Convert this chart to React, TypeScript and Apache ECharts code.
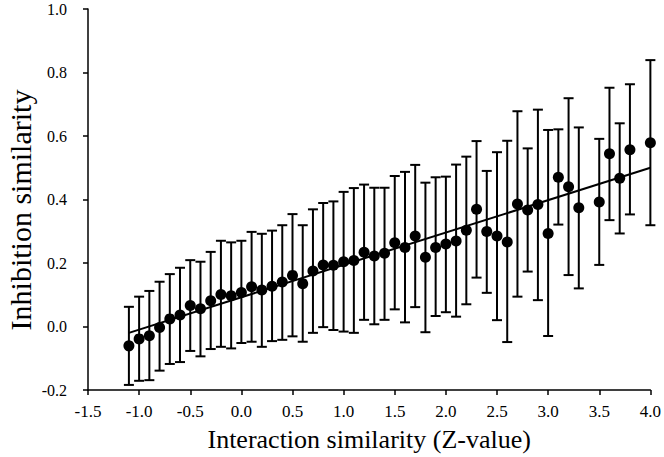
import React, { useEffect, useRef } from "react";
import * as echarts from "echarts";

const xValues = [
  -1.1, -1.0, -0.9, -0.8, -0.7, -0.6, -0.5, -0.4, -0.3, -0.2, -0.1, 0.0, 0.1, 0.2, 0.3, 0.4, 0.5, 0.6,
  0.7, 0.8, 0.9, 1.0, 1.1, 1.2, 1.3, 1.4, 1.5, 1.6, 1.7, 1.8, 1.9, 2.0, 2.1, 2.2, 2.3, 2.4, 2.5, 2.6,
  2.7, 2.8, 2.9, 3.0, 3.1, 3.2, 3.3, 3.5, 3.6, 3.7, 3.8, 4.0,
];
const means = [
  -0.061, -0.039, -0.029, -0.003, 0.024, 0.036, 0.066, 0.056, 0.081, 0.101, 0.097, 0.107, 0.125, 0.115,
  0.127, 0.14, 0.161, 0.135, 0.175, 0.194, 0.193, 0.204, 0.208, 0.234, 0.222, 0.231, 0.264, 0.249, 0.285,
  0.218, 0.249, 0.26, 0.269, 0.303, 0.369, 0.299, 0.285, 0.266, 0.386, 0.367, 0.384, 0.293, 0.47, 0.44,
  0.374, 0.392, 0.544, 0.467, 0.557, 0.579,
];
const upper = [
  0.062, 0.094, 0.112, 0.141, 0.165, 0.185, 0.209, 0.204, 0.235, 0.27, 0.265, 0.27, 0.298, 0.292, 0.302,
  0.319, 0.354, 0.319, 0.369, 0.389, 0.394, 0.424, 0.436, 0.447, 0.437, 0.437, 0.474, 0.487, 0.509, 0.453,
  0.47, 0.472, 0.51, 0.535, 0.584, 0.49, 0.549, 0.585, 0.678, 0.561, 0.683, 0.619, 0.621, 0.719, 0.627,
  0.591, 0.752, 0.64, 0.763, 0.839,
];
const lower = [
  -0.184, -0.171, -0.169, -0.139, -0.118, -0.112, -0.077, -0.094, -0.071, -0.064, -0.069, -0.052, -0.048,
  -0.064, -0.046, -0.042, -0.031, -0.048, -0.02, -0.002, -0.011, -0.016, -0.02, 0.021, 0.007, 0.021, 0.054,
  0.013, 0.061, -0.018, 0.033, 0.045, 0.031, 0.07, 0.154, 0.106, 0.02, -0.049, 0.094, 0.173, 0.083, -0.03,
  0.321, 0.162, 0.12, 0.194, 0.335, 0.293, 0.353, 0.319,
];
const fitX = [-1.1, 4.0];
const fitY = [-0.02, 0.5];

const xTitle = "Interaction similarity (Z-value)";
const yTitle = "Inhibition similarity";

const FONT = "'Liberation Serif', 'Times New Roman', serif";

export default function App() {
  const ref = useRef<HTMLDivElement>(null);
  useEffect(() => {
    document.body.style.margin = "0";
    if (!ref.current) return;
    const chart = echarts.init(ref.current, undefined, { renderer: "svg" });
    const errData = xValues.map((x, i) => [x, lower[i], upper[i]]);
    const pts = xValues.map((x, i) => [x, means[i]]);
    const fit = fitX.map((x, i) => [x, fitY[i]]);
    chart.setOption({
      animation: false,
      grid: { left: 88, right: 11, top: 9, bottom: 67, containLabel: false },
      graphic: [
        {
          type: "text",
          x: 20,
          y: 210,
          rotation: Math.PI / 2,
          style: {
            text: yTitle,
            fontFamily: FONT,
            fontSize: 30,
            fill: "#000",
            textAlign: "center",
            textVerticalAlign: "middle",
          },
        },
      ],
      xAxis: {
        type: "value",
        min: -1.5,
        max: 4.0,
        interval: 0.5,
        name: xTitle,
        nameLocation: "middle",
        nameGap: 36,
        nameTextStyle: { fontFamily: FONT, fontSize: 26, color: "#000" },
        axisLine: { onZero: false, lineStyle: { color: "#000", width: 1.5 } },
        axisTick: { show: true, inside: false, length: 5, lineStyle: { color: "#000", width: 1.5 } },
        axisLabel: {
          fontFamily: FONT,
          fontSize: 17,
          color: "#000",
          margin: 13,
          formatter: (v: number) => v.toFixed(1),
        },
        splitLine: { show: false },
      },
      yAxis: {
        type: "value",
        min: -0.2,
        max: 1.0,
        interval: 0.2,
        axisLine: { show: true, onZero: false, lineStyle: { color: "#000", width: 1.5 } },
        axisTick: { show: true, inside: false, length: 5, lineStyle: { color: "#000", width: 1.5 } },
        axisLabel: {
          fontFamily: FONT,
          fontSize: 16,
          color: "#000",
          margin: 21,
          formatter: (v: number) => v.toFixed(1),
        },
        splitLine: { show: false },
      },
      series: [
        {
          type: "custom",
          data: errData,
          encode: { x: 0, y: [1, 2] },
          z: 1,
          renderItem: (params: any, api: any) => {
            const x = api.value(0);
            const lo = api.coord([x, api.value(1)]);
            const hi = api.coord([x, api.value(2)]);
            const hw = 5;
            const style = { stroke: "#000", lineWidth: 2 };
            return {
              type: "group",
              children: [
                { type: "line", shape: { x1: lo[0], y1: lo[1], x2: hi[0], y2: hi[1] }, style },
                { type: "line", shape: { x1: hi[0] - hw, y1: hi[1], x2: hi[0] + hw, y2: hi[1] }, style },
                { type: "line", shape: { x1: lo[0] - hw, y1: lo[1], x2: lo[0] + hw, y2: lo[1] }, style },
              ],
            };
          },
        },
        {
          type: "line",
          data: fit,
          symbol: "none",
          z: 2,
          lineStyle: { color: "#000", width: 2 },
        },
        {
          type: "scatter",
          data: pts,
          symbol: "circle",
          symbolSize: 11,
          z: 3,
          itemStyle: { color: "#000", opacity: 1 },
        },
      ],
    });
    return () => chart.dispose();
  }, []);
  return <div ref={ref} style={{ width: 664, height: 457 }} />;
}
